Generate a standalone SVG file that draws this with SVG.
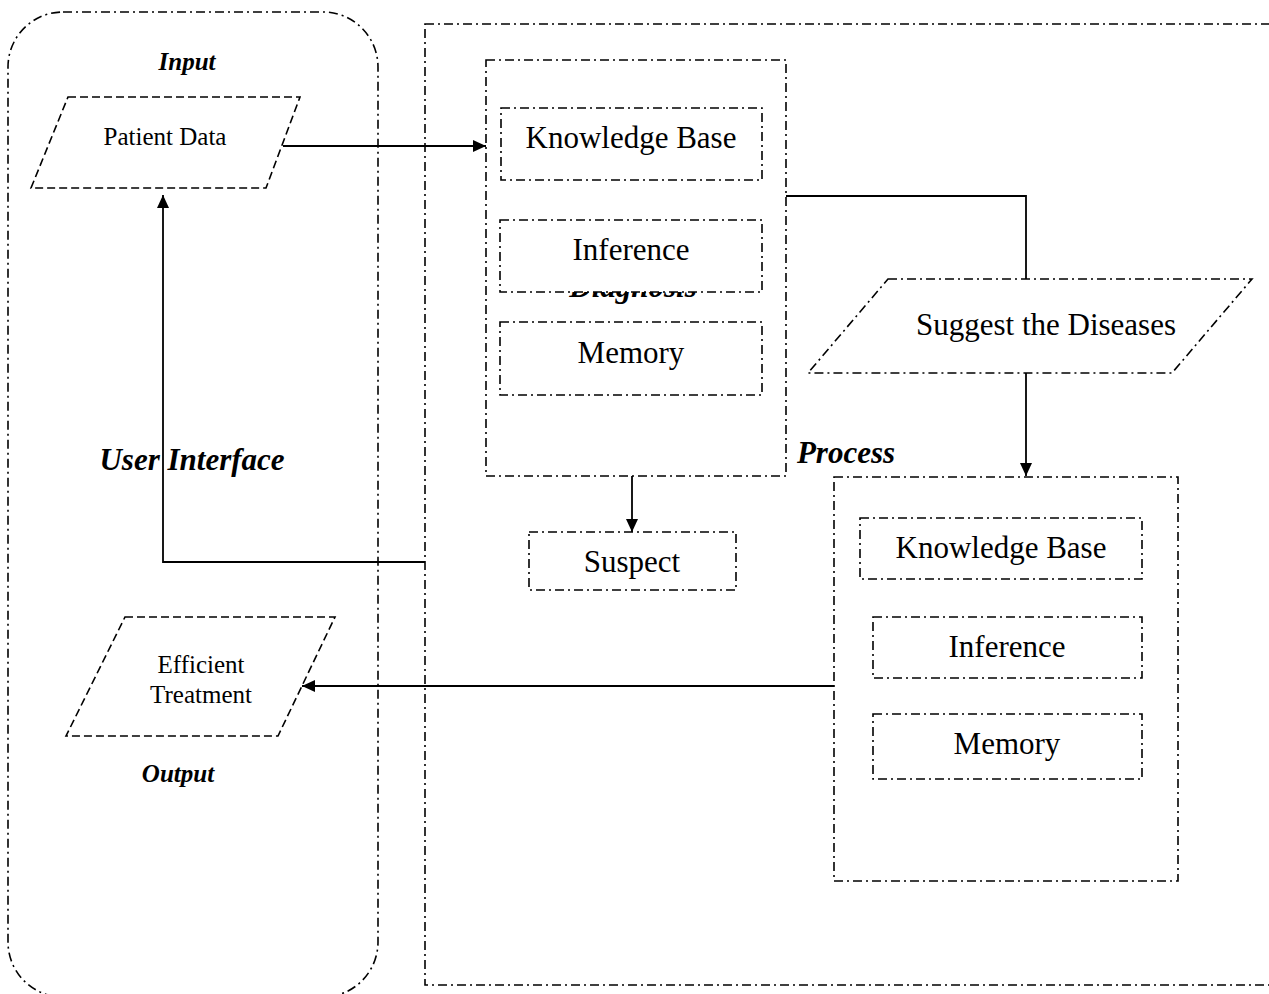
<svg xmlns="http://www.w3.org/2000/svg" width="1269" height="994" viewBox="0 0 1269 994">
<style>
.dd{fill:none;stroke:#000;stroke-width:1.6;stroke-dasharray:9 4 2 4}
.ddw{fill:#fff;stroke:#000;stroke-width:1.6;stroke-dasharray:9 4 2 4}
.da{fill:#fff;stroke:#000;stroke-width:1.6;stroke-dasharray:8 4}
.t{font-family:"Liberation Serif","Times New Roman",serif;fill:#000;text-anchor:middle}
.bi{font-family:"Liberation Serif","Times New Roman",serif;font-weight:bold;font-style:italic;fill:#000;text-anchor:middle}
.c{fill:none;stroke:#000;stroke-width:1.8}
</style>
<defs>
<marker id="ah" markerUnits="userSpaceOnUse" markerWidth="14" markerHeight="12" refX="13" refY="6" orient="auto">
<path d="M0,0 L13,6 L0,12 z" fill="#000"/>
</marker>
</defs>
<rect width="1269" height="994" fill="#fff"/>
<g id="process-area">
<rect class="dd" x="425" y="24" width="870" height="961"/>
<text class="bi" x="846" y="463" font-size="31">Process</text>
</g>
<g id="user-interface">
<rect class="dd" x="8" y="12" width="370" height="985" rx="55" ry="55"/>
<text class="bi" x="192" y="470" font-size="31">User Interface</text>
</g>
<g id="input">
<text class="bi" x="187" y="70" font-size="25">Input</text>
</g>
<g id="patient-data">
<polygon class="da" points="68,97 300,97 266,188 31,188"/>
<text class="t" x="165" y="145" font-size="25">Patient Data</text>
</g>
<g id="efficient-treatment">
<polygon class="da" points="125,617 335,617 278,736 66,736"/>
<text class="t" x="201" y="673" font-size="25">Efficient</text>
<text class="t" x="201" y="703" font-size="25">Treatment</text>
</g>
<g id="output">
<text class="bi" x="178" y="782" font-size="25">Output</text>
</g>
<g id="diagnosis">
<rect class="dd" x="486" y="60" width="300" height="416"/>
<text class="bi" x="633" y="297" font-size="31">Diagnosis</text>
</g>
<g id="kb1">
<rect class="ddw" x="501" y="108" width="261" height="72"/>
<text class="t" x="631" y="148" font-size="31">Knowledge Base</text>
</g>
<g id="inf1">
<rect class="ddw" x="500" y="220" width="262" height="72"/>
<text class="t" x="631" y="260" font-size="31">Inference</text>
</g>
<g id="mem1">
<rect class="ddw" x="500" y="322" width="262" height="73"/>
<text class="t" x="631" y="363" font-size="31">Memory</text>
</g>
<g id="suspect">
<rect class="ddw" x="529" y="532" width="207" height="58"/>
<text class="t" x="632" y="572" font-size="31">Suspect</text>
</g>
<g id="suggest">
<polygon class="ddw" points="888,279 1252,279 1172,373 808,373"/>
<text class="t" x="1046" y="335" font-size="31">Suggest the Diseases</text>
</g>
<g id="treatment-box">
<rect class="dd" x="834" y="477" width="344" height="404"/>
</g>
<g id="kb2">
<rect class="ddw" x="860" y="518" width="282" height="61"/>
<text class="t" x="1001" y="558" font-size="31">Knowledge Base</text>
</g>
<g id="inf2">
<rect class="ddw" x="873" y="617" width="269" height="61"/>
<text class="t" x="1007" y="657" font-size="31">Inference</text>
</g>
<g id="mem2">
<rect class="ddw" x="873" y="714" width="269" height="65"/>
<text class="t" x="1007" y="754" font-size="31">Memory</text>
</g>
<g id="connectors">
<path class="c" d="M283,146 L486,146" marker-end="url(#ah)"/>
<path class="c" d="M786,196 L1026,196 L1026,279"/>
<path class="c" d="M1026,373 L1026,476" marker-end="url(#ah)"/>
<path class="c" d="M632,476 L632,532" marker-end="url(#ah)"/>
<path class="c" d="M425,562 L163,562 L163,195" marker-end="url(#ah)"/>
<path class="c" d="M834,686 L302,686" marker-end="url(#ah)"/>
</g>
</svg>
